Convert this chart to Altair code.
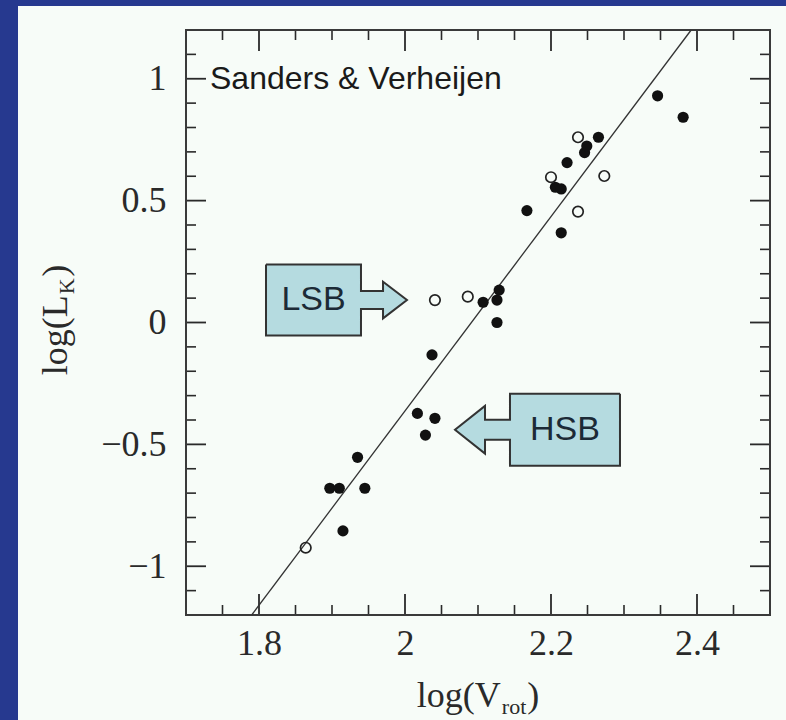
import altair as alt
import pandas as pd

# ---------------- data ----------------
filled_x = [1.897, 1.910, 1.945, 1.915, 1.935, 2.017, 2.028, 2.041, 2.037, 2.107, 2.126, 2.129,
            2.126, 2.167, 2.214, 2.206, 2.214, 2.222, 2.246, 2.249, 2.265, 2.346, 2.381]
filled_y = [-0.680, -0.680, -0.680, -0.855, -0.553, -0.373, -0.462, -0.393, -0.133, 0.083, 0.092, 0.133,
            0.000, 0.459, 0.368, 0.555, 0.548, 0.656, 0.697, 0.724, 0.760, 0.930, 0.842]
open_x = [1.864, 2.041, 2.086, 2.200, 2.237, 2.273, 2.237]
open_y = [-0.924, 0.092, 0.106, 0.596, 0.760, 0.601, 0.455]
fit_x = [1.790, 2.392]
fit_y = [-1.2, 1.2]

x_major_ticks = [1.8, 2.0, 2.2, 2.4]
x_minor_ticks = [1.75, 1.85, 1.9, 1.95, 2.05, 2.1, 2.15, 2.25, 2.3, 2.35, 2.45]
y_major_ticks = [-1.0, -0.5, 0.0, 0.5, 1.0]
y_minor_ticks = [-1.1, -0.9, -0.8, -0.7, -0.6, -0.4, -0.3, -0.2, -0.1,
                 0.1, 0.2, 0.3, 0.4, 0.6, 0.7, 0.8, 0.9, 1.1]

# ---------------- layout / style ----------------
W, H = 584, 585
BLUE = "#26398f"
PANEL = "#f7fcf8"
INK = "#2a2a2a"
BOXFILL = "#b5dbe0"
SERIF = "Liberation Serif"
SANS = "Liberation Sans"
LAB = 36

xs = alt.Scale(domain=[1.7, 2.5], nice=False, zero=False)
ys = alt.Scale(domain=[-1.2, 1.2], nice=False, zero=False)
xa = alt.Axis(values=x_major_ticks, format="~g", ticks=False, domain=False, grid=False, zindex=1,
              labelFont=SERIF, labelFontSize=LAB, labelColor=INK, labelPadding=11, tickSize=0, title=None)
ya = alt.Axis(values=y_major_ticks, format="~g", ticks=False, domain=False, grid=False, zindex=1,
              labelFont=SERIF, labelFontSize=LAB, labelColor=INK, labelPadding=20, tickSize=0, title=None)

def X(f):
    return alt.X(f, scale=xs, axis=xa)

def Y(f):
    return alt.Y(f, scale=ys, axis=ya)

one = pd.DataFrame({"k": [0]})

layers = []

# white panel (blue strips are the background)
layers.append(alt.Chart(one).mark_rect(color=PANEL).encode(
    x=alt.value(-168), x2=alt.value(600), y=alt.value(-24), y2=alt.value(690)))

# ticks (inward, on all four sides)
def tick_layers(vals, axis, length, width):
    df = pd.DataFrame({"v": vals})
    out = []
    if axis == "x":
        for y0, y1 in [(H, H - length), (0, length)]:
            out.append(alt.Chart(df).mark_rule(color=INK, strokeWidth=width).encode(
                x=X("v:Q"), y=alt.value(y0), y2=alt.value(y1)))
    else:
        for x0, x1 in [(0, length), (W, W - length)]:
            out.append(alt.Chart(df).mark_rule(color=INK, strokeWidth=width).encode(
                y=Y("v:Q"), x=alt.value(x0), x2=alt.value(x1)))
    return out

layers += tick_layers(x_major_ticks, "x", 21, 1.8)
layers += tick_layers(x_minor_ticks, "x", 10, 1.6)
layers += tick_layers(y_major_ticks, "y", 20, 1.8)
layers += tick_layers(y_minor_ticks, "y", 10, 1.6)

# frame
layers.append(alt.Chart(one).mark_rect(fillOpacity=0, stroke="#3a3a3a", strokeWidth=2).encode(
    x=alt.value(0), x2=alt.value(W), y=alt.value(0), y2=alt.value(H)))

# fit line
fit_df = pd.DataFrame({"x": fit_x, "y": fit_y})
layers.append(alt.Chart(fit_df).mark_line(color="#333333", strokeWidth=1.3).encode(
    x=X("x:Q"), y=Y("y:Q")))

# callouts (box + arrow), geometry in data units
def callout(far, att, xh, xt, cy, bh, sh, hh):
    pts = [(far, cy + bh), (att, cy + bh), (att, cy + sh), (xh, cy + sh), (xh, cy + hh), (xt, cy),
           (xh, cy - hh), (xh, cy - sh), (att, cy - sh), (att, cy - bh), (far, cy - bh), (far, cy + bh)]
    df = pd.DataFrame({"i": list(range(len(pts))), "x": [p[0] for p in pts], "y": [p[1] for p in pts]})
    return alt.Chart(df).mark_line(fill=BOXFILL, stroke="#333333", strokeWidth=2, strokeJoin="miter").encode(
        x=X("x:Q"), y=Y("y:Q"), order="i:Q")

layers.append(callout(1.8096, 1.9397, 1.9699, 2.0027, 0.092, 0.1456, 0.037, 0.075))
layers.append(callout(2.2945, 2.1438, 2.1096, 2.0685, -0.44, 0.1477, 0.041, 0.098))

lab_df = pd.DataFrame({"x": [1.8747, 2.219], "y": [0.092, -0.44], "t": ["LSB", "HSB"]})
layers.append(alt.Chart(lab_df).mark_text(font=SANS, fontSize=34, color="#1c2a36",
                                          align="center", baseline="middle").encode(
    x=X("x:Q"), y=Y("y:Q"), text="t:N"))

# points
open_df = pd.DataFrame({"x": open_x, "y": open_y})
layers.append(alt.Chart(open_df).mark_point(shape="circle", filled=False, color="#222222",
                                            strokeWidth=1.7, size=110, opacity=1).encode(
    x=X("x:Q"), y=Y("y:Q")))

filled_df = pd.DataFrame({"x": filled_x, "y": filled_y})
layers.append(alt.Chart(filled_df).mark_circle(color="#111111", size=125, opacity=1).encode(
    x=X("x:Q"), y=Y("y:Q")))

# in-plot title
layers.append(alt.Chart(one).mark_text(text="Sanders & Verheijen", font=SANS, fontSize=32, color="#1a1a1a",
                                       align="left", baseline="middle").encode(
    x=alt.value(24), y=alt.value(49)))

# axis titles with subscripts
def txt(text, x, y, size, align="left", angle=None):
    kw = dict(text=text, font=SERIF, fontSize=size, color=INK, align=align, baseline="alphabetic")
    if angle is not None:
        kw["angle"] = angle
    return alt.Chart(one).mark_text(**kw).encode(x=alt.value(x), y=alt.value(y))

layers.append(txt("log(V", 314.8, 677, 36, align="right"))
layers.append(txt("rot", 315.8, 684, 22))
layers.append(txt(")", 341.2, 677, 36))

layers.append(txt("log(L", -119, 265.2, 36, align="right", angle=270))
layers.append(txt("K", -112, 264.2, 22, angle=270))
layers.append(txt(")", -119, 246.8, 36, angle=270))

chart = alt.layer(*layers).properties(
    width=W, height=H,
    padding={"left": 186, "top": 30, "right": 16, "bottom": 105},
    autosize=alt.AutoSizeParams(type="none"),
    background=BLUE,
).configure_view(strokeWidth=0)

chart.save("out.html", embed_options={"renderer": "svg", "actions": False})
